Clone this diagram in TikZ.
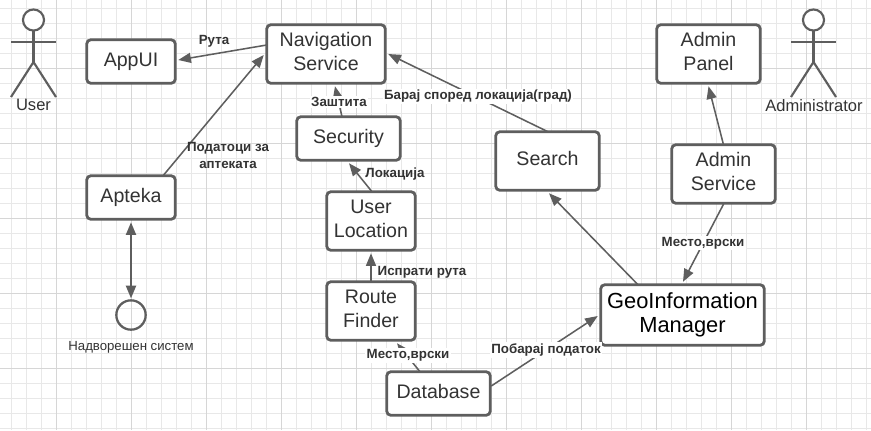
\documentclass[tikz,border=0pt]{standalone}
\usepackage{fontspec}
\setmainfont{Liberation Sans}
\usetikzlibrary{arrows.meta}
\definecolor{ln}{HTML}{5E5E5E}
\definecolor{tx}{HTML}{333333}
\definecolor{gridminor}{HTML}{E8E8E8}
\definecolor{gridmajor}{HTML}{D6D6D6}
% lifts the text of a box: an empty last line adds height below the text
\newcommand{\lift}[1]{\\[#1]\mbox{}}
\tikzset{
  x=0.75pt,y=-0.75pt,
  box/.style 2 args={draw=ln,line width=2.1pt,rounded corners=3pt,fill=white,outer sep=0pt,inner sep=0pt,
    minimum width=#1*0.75pt,minimum height=#2*0.75pt,align=center,text=tx,
    font=\fontsize{14.7pt}{18pt}\selectfont},
  conn/.style={draw=ln,line width=1.15pt,-{Triangle[length=9.5pt,width=7.5pt]}},
  lab/.style={font=\fontsize{10pt}{12.4pt}\bfseries\selectfont,text=tx,fill=white,inner sep=1pt,align=center},
  plainlab/.style={font=\fontsize{12.4pt}{14pt}\selectfont,text=tx,inner sep=0pt},
  smalllab/.style={font=\fontsize{9.9pt}{12pt}\selectfont,text=tx,inner sep=0pt},
  limb/.style={draw=ln,line width=1.6pt},
  head/.style={draw=ln,line width=1.6pt,circle,fill=white,minimum size=15.8pt,inner sep=0pt,outer sep=0pt},
}
\begin{document}
\begin{tikzpicture}
\useasboundingbox (0,0) rectangle (871,430);
\fill[white] (0,0) rectangle (871,430);
\foreach \i in {0,...,58} \draw[gridminor,line width=0.55pt] ({11.7+15*\i},0) -- ({11.7+15*\i},430);
\foreach \i in {0,...,28} \draw[gridminor,line width=0.55pt] (0,{8+15*\i}) -- (871,{8+15*\i});
\foreach \i in {0,...,10} \draw[gridmajor,line width=0.55pt] ({56.7+75*\i},0) -- ({56.7+75*\i},430);
\foreach \i in {0,...,4} \draw[gridmajor,line width=0.55pt] (0,{68+75*\i}) -- (871,{68+75*\i});

\node[box={88.5}{43.5}] (appui) at (131,61.5) {AppUI\lift{-15pt}};
\node[box={118.5}{58.5}] (nav) at (326,54) {Navigation\\Service\lift{-13.5pt}};
\node[box={103.5}{43.5}] (sec) at (348.5,138.5) {Security\lift{-15pt}};
\node[box={88.5}{58.5}] (ul) at (371,221) {User\\Location\lift{-14pt}};
\node[box={88.5}{58.5}] (rf) at (371,311) {Route\\Finder\lift{-14.5pt}};
\node[box={103.5}{43.5}] (db) at (438.5,393.5) {Database\lift{-15pt}};
\node[box={163.5}{60.5},text=black,font=\fontsize{16.4pt}{18pt}\selectfont] (geo) at (682.5,315) {GeoInformation\\Manager\lift{-15pt}};
\node[box={103.5}{58.5}] (search) at (547.5,161) {Search\lift{-13.5pt}};
\node[box={103.5}{58.5}] (ap) at (708.5,54) {Admin\\Panel\lift{-13.5pt}};
\node[box={103.5}{58.5}] (as) at (723.5,174) {Admin\\Service\lift{-13.5pt}};
\node[box={88.5}{43.5}] (apteka) at (131,197.5) {Apteka};
\node[draw=ln,line width=1.7pt,circle,minimum size=22pt,inner sep=0pt,outer sep=0pt] (ext) at (131,315) {};

\draw[conn] ([shift={(0,-9)}]nav.west) -- ([shift={(3,-1.5)}]appui.east);
\draw[conn] ([shift={(32,0)}]apteka.north) -- ([shift={(-3,1)}]nav.west);
\draw[conn] ([shift={(-6.5,0)}]sec.north) -- ([shift={(9,3)}]nav.south);
\draw[conn] ([shift={(1,0)}]ul.north) -- ([shift={(0.5,3)}]sec.south);
\draw[conn] (rf.north) -- ([shift={(0,3)}]ul.south);
\draw[conn] ([shift={(-18.5,0)}]db.north) -- ([shift={(26,3)}]rf.south);
\draw[conn] ([shift={(1,-7.5)}]db.east) -- ([shift={(-3,1)}]geo.west);
\draw[conn] ([shift={(0.5,0)}]search.north) -- ([shift={(3,0)}]nav.east);
\draw[conn] ([shift={(-44.5,0)}]geo.north) -- ([shift={(1.5,3)}]search.south);
\draw[conn] ([shift={(0.5,0)}]as.south) -- ([shift={(0.5,-3)}]geo.north);
\draw[conn] (as.north) -- ([shift={(0,3)}]ap.south);
\draw[conn,line width=1.5pt,{Triangle[length=9.5pt,width=7.5pt]}-{Triangle[length=9.5pt,width=7.5pt]}] ([shift={(0,3)}]apteka.south) -- ([shift={(0,-2)}]ext.north);

\node[lab,fill=none] (l1) at (214,41.5) {Рута};
\node[lab,fill=none] (l2) at (228,155.5) {Податоци за\\аптеката};
\node[lab] (l3) at (339,102) {Заштита};
\node[lab,fill=none] (l4) at (395,174.5) {Локација};
\node[lab,fill=none] (l5) at (422,272.5) {Испрати рута};
\node[lab] (l6) at (408,355.5) {Место,врски};
\node[lab] (l7) at (546,350) {Побарај податок};
\node[lab] (l8) at (478,96.5) {Барај според локација(град)};
\node[lab] (l9) at (703,243) {Место,врски};
\node[smalllab] (l10) at (131,347) {Надворешен систем};

% actors
\node[head] (h1) at (33.5,20) {};
\coordinate (c1) at (33.5,62);
\coordinate (a1l) at (11,42);
\coordinate (a1r) at (56,42);
\coordinate (f1l) at (11,97);
\coordinate (f1r) at (56,97);
\draw[limb] (h1.south) -- (c1);
\draw[limb] (a1l) -- (a1r);
\draw[limb] (f1l) -- (c1) -- (f1r);
\node[plainlab] (u) at (33.5,105) {User};

\node[head] (h2) at (813.5,20) {};
\coordinate (c2) at (813.5,62);
\coordinate (a2l) at (791,42);
\coordinate (a2r) at (836,42);
\coordinate (f2l) at (791,97);
\coordinate (f2r) at (836,97);
\draw[limb] (h2.south) -- (c2);
\draw[limb] (a2l) -- (a2r);
\draw[limb] (f2l) -- (c2) -- (f2r);
\node[plainlab] (adm) at (814,106) {Administrator};
\end{tikzpicture}
\end{document}
